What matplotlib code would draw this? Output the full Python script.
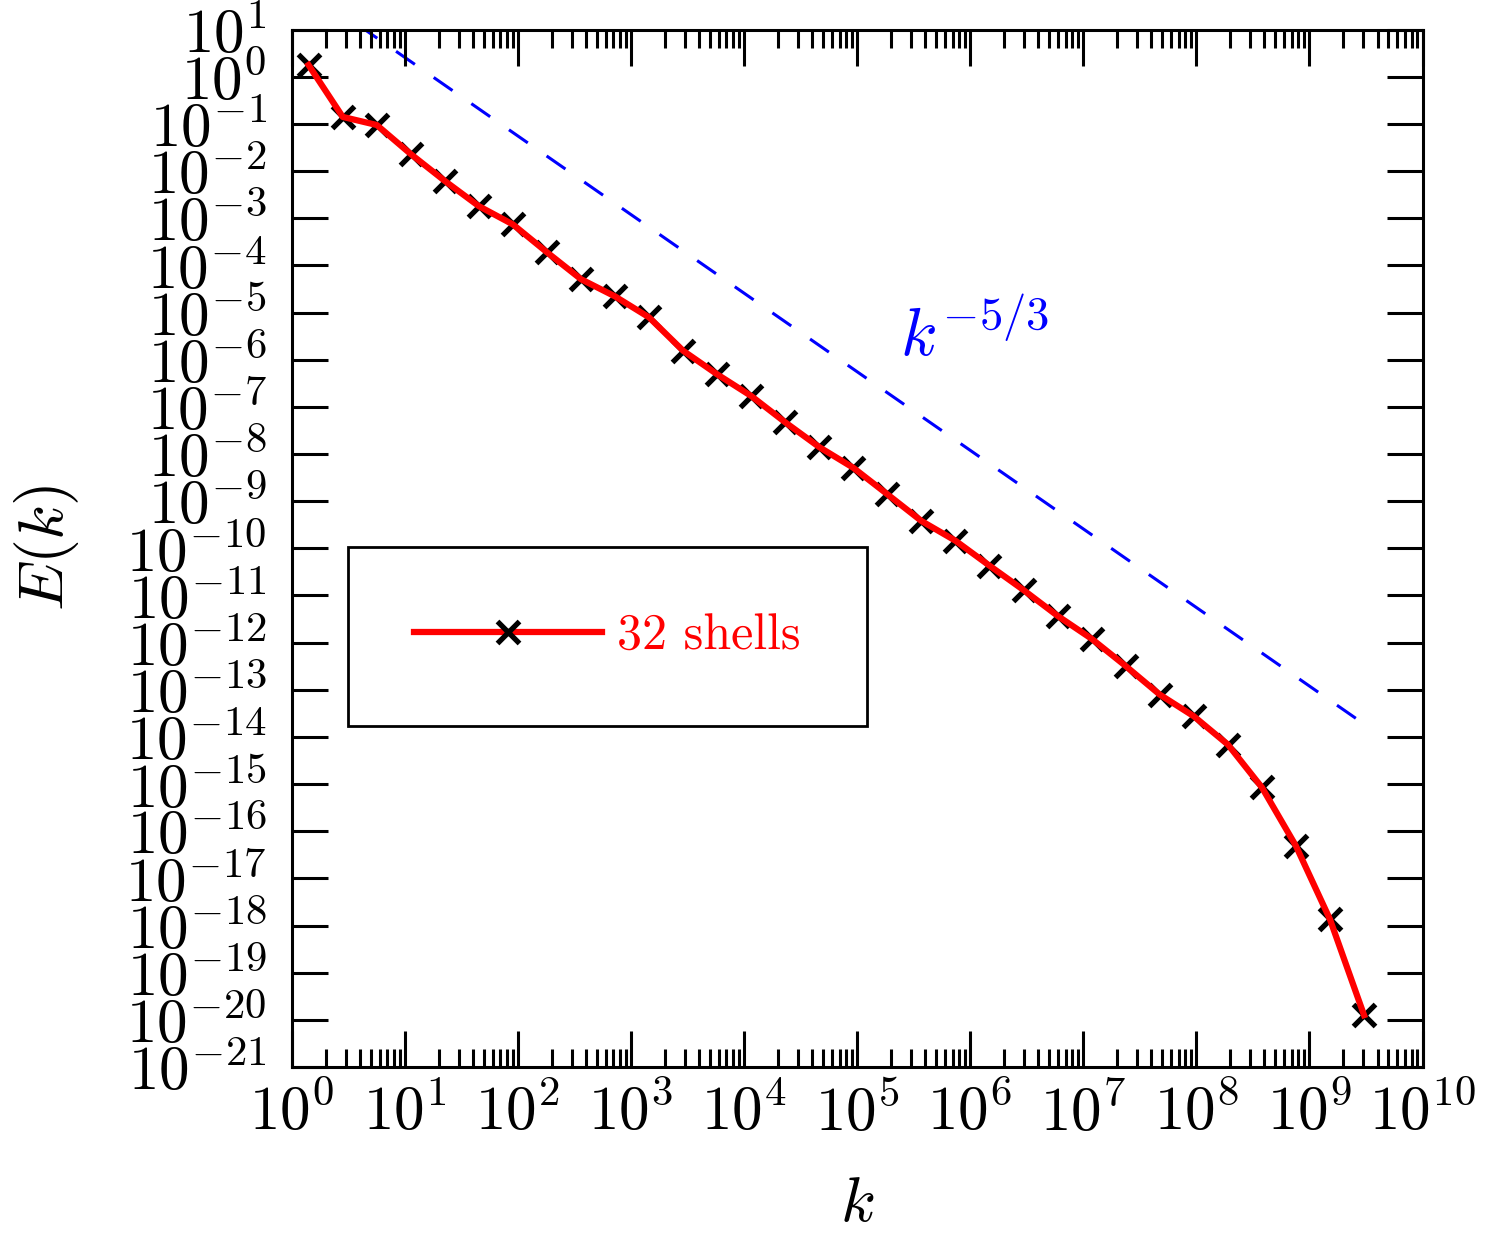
import numpy as np
import matplotlib
matplotlib.use('Agg')
import matplotlib.pyplot as plt
from matplotlib.ticker import LogLocator, NullLocator
from matplotlib.lines import Line2D

plt.rcParams['font.family'] = 'serif'
plt.rcParams['font.serif'] = ['cmr10']
plt.rcParams['mathtext.fontset'] = 'cm'
plt.rcParams['axes.formatter.use_mathtext'] = True

# shell wavenumbers and energy spectrum
k = [1.41, 2.83, 5.66, 11.3, 22.6, 45.3, 90.5, 181, 362, 724,
     1448, 2896, 5793, 11585, 23170, 46341, 92682, 185364, 370728, 741455,
     1.48e6, 2.97e6, 5.93e6, 1.19e7, 2.37e7, 4.75e7, 9.49e7, 1.90e8, 3.80e8, 7.59e8,
     1.52e9, 3.04e9]
E = [1.78, 1.41e-1, 9.5e-2, 2.3e-2, 6.2e-3, 1.8e-3, 7.4e-4, 1.9e-4, 5.1e-5, 2.2e-5,
     7.9e-6, 1.55e-6, 4.9e-7, 1.7e-7, 4.7e-8, 1.4e-8, 5.1e-9, 1.4e-9, 3.8e-10, 1.45e-10,
     4.3e-11, 1.3e-11, 3.7e-12, 1.2e-12, 3.2e-13, 7.9e-14, 2.75e-14, 6.9e-15, 8.5e-16, 4.9e-17,
     1.35e-18, 1.26e-20]

# reference slope k^(-5/3)
k_ref = [1.0, 3.1e9]
C_ref = 120.0
E_ref = [C_ref * kk ** (-5.0 / 3.0) for kk in k_ref]

fig = plt.figure(figsize=(14.88, 12.35), dpi=100)
ax = fig.add_axes([0.196, 0.136, 0.760, 0.840])

ax.plot(k_ref, E_ref, color='blue', lw=2.2, linestyle=(0, (7.5, 7.5)), zorder=1)
ax.plot(k, E, linestyle='none', marker='x', ms=16, mew=3.8, color='black', zorder=2)
ax.plot(k, E, color='red', lw=4.5, zorder=3)

ax.set_xscale('log')
ax.set_yscale('log')
ax.set_xlim(1, 1e10)
ax.set_ylim(1e-21, 1e1)

ax.xaxis.set_major_locator(LogLocator(base=10, numticks=30))
ax.xaxis.set_minor_locator(LogLocator(base=10, subs=np.arange(2, 10), numticks=200))
ax.yaxis.set_major_locator(LogLocator(base=10, numticks=40))
ax.yaxis.set_minor_locator(NullLocator())

ax.tick_params(which='both', direction='in', top=True, right=True, width=2.2)
ax.tick_params(which='major', length=26, labelsize=44)
ax.tick_params(which='minor', length=13)
ax.tick_params(axis='y', pad=18)
ax.tick_params(axis='x', pad=12)
for s in ax.spines.values():
    s.set_linewidth(2.2)

ax.set_xlabel(r'$k$', fontsize=46, labelpad=24)
ax.set_ylabel(r'$E(k)$', fontsize=46, labelpad=32)

ax.text(0.538, 0.685, r'$k^{-5/3}$', color='blue', fontsize=48, transform=ax.transAxes)

handle = Line2D([], [], color='red', lw=4.5, marker='x', ms=16, mew=3.8, mec='black')
leg = ax.legend([handle], ['32 shells'], loc='upper left', bbox_to_anchor=(0.0496, 0.5014),
                borderaxespad=0, fontsize=36, labelcolor='red', fancybox=False,
                edgecolor='black', framealpha=1, borderpad=1.33, handlelength=3.75,
                handletextpad=0.3)
leg.get_frame().set_linewidth(2)

fig.savefig('out.png', dpi=100)
